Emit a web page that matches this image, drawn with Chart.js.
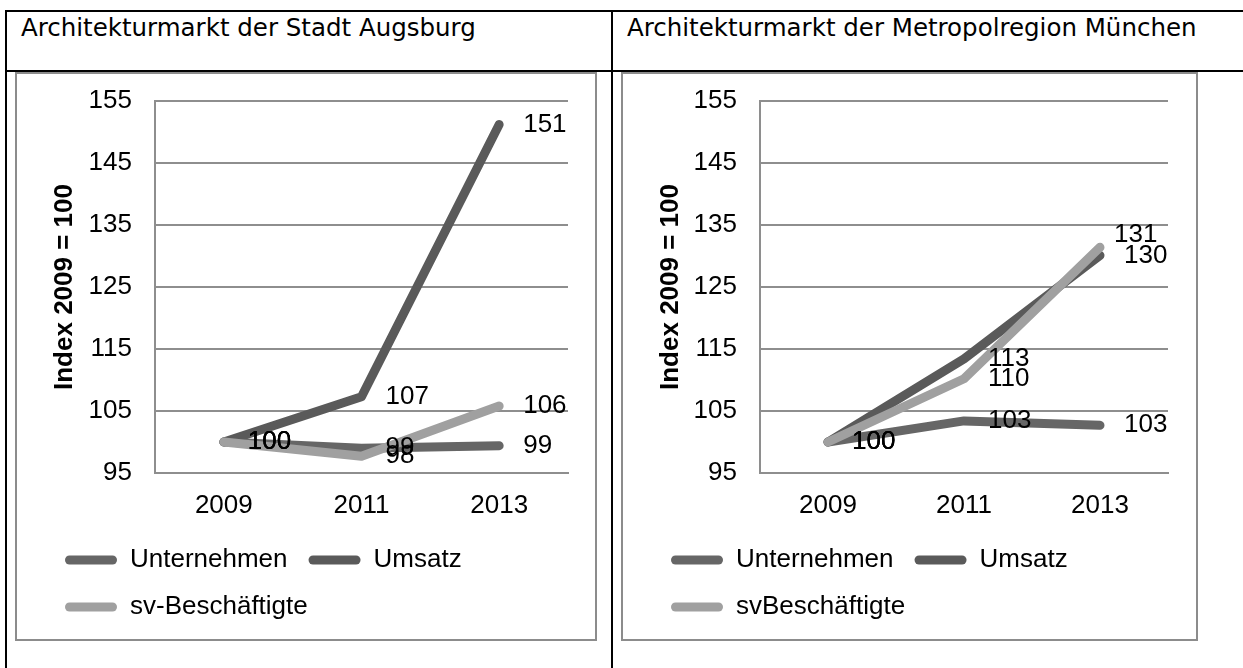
<!DOCTYPE html>
<html>
<head>
<meta charset="utf-8">
<script src="https://cdn.jsdelivr.net/npm/chart.js@4.4.0/dist/chart.umd.min.js"></script>
<style>
html, body { margin: 0; padding: 0; background: #fff; width: 1243px; height: 668px; overflow: hidden; font-family: "Liberation Sans", Arial, sans-serif; }
.hline { position: absolute; left: 5px; width: 1238px; height: 2px; background: #000; }
.vline { position: absolute; top: 10px; width: 2px; height: 660px; background: #000; }
.head { position: absolute; top: 13px; font-family: "DejaVu Sans", sans-serif; font-size: 24.5px; line-height: 30px; color: #000; white-space: nowrap; }
.box { position: absolute; top: 72px; height: 565px; border: 2px solid #8c8c8c; background: #fff; }
canvas { display: block; }
</style>
</head>
<body>
<div class="hline" style="top:10px"></div>
<div class="hline" style="top:70px"></div>
<div class="vline" style="left:5px"></div>
<div class="vline" style="left:611px"></div>
<div class="head" style="left:21px">Architekturmarkt der Stadt Augsburg</div>
<div class="head" style="left:627px">Architekturmarkt der Metropolregion München</div>
<div class="box" style="left:15px;width:578px"><canvas id="augsburg" width="578" height="565"></canvas></div>
<div class="box" style="left:621px;width:573px"><canvas id="muenchen" width="573" height="565"></canvas></div>

<script>
// data
const years = ['2009', '2011', '2013'];
const namesAugsburg = ['Unternehmen', 'Umsatz', 'sv-Beschäftigte'];
const namesMuenchen = ['Unternehmen', 'Umsatz', 'svBeschäftigte'];

const augsburgUnternehmen = [100, 99.0, 99.4];
const augsburgUmsatz = [100, 107.3, 151.2];
const augsburgBeschaeftigte = [100, 97.7, 105.8];

const muenchenUnternehmen = [100, 103.4, 102.7];
const muenchenUmsatz = [100, 113.4, 130.1];
const muenchenBeschaeftigte = [100, 110.2, 131.4];

const yMin = 95, yMax = 155, yStep = 10;
const yTitle = 'Index 2009 = 100';

const seriesColors = ['#666666', '#5a5a5a', '#a0a0a0'];
const gridColor = '#8e8e8e';

Chart.defaults.font.family = '"Liberation Sans", Arial, sans-serif';
Chart.defaults.font.size = 26;
Chart.defaults.color = '#000';

// value next to every point, like the Excel data labels
const valueLabels = {
    id: 'valueLabels',
    afterDatasetsDraw(chart, args, opts) {
        const ctx = chart.ctx;
        ctx.save();
        ctx.font = '26px "Liberation Sans", Arial, sans-serif';
        ctx.fillStyle = '#000';
        ctx.textAlign = 'left';
        ctx.textBaseline = 'middle';
        chart.data.datasets.forEach((ds, di) => {
            chart.getDatasetMeta(di).data.forEach((pt, i) => {
                const s = (opts.shifts || []).find(o => o.dataset === di && o.index === i) || {dx: 0, dy: 0};
                ctx.fillText(String(Math.round(ds.data[i])), pt.x + 24 + s.dx, pt.y + s.dy);
            });
        });
        ctx.restore();
    }
};

function drawIndexChart(canvasId, names, series, yAxisWidth, padRight, shifts) {
    new Chart(document.getElementById(canvasId), {
        type: 'line',
        data: {
            labels: years,
            datasets: series.map((values, i) => ({
                label: names[i],
                data: values,
                borderColor: seriesColors[i],
                backgroundColor: seriesColors[i],
                borderWidth: 9,
                borderCapStyle: 'round',
                borderJoinStyle: 'round',
                pointRadius: 0,
                pointHoverRadius: 0,
                tension: 0,
                fill: false,
                order: series.length - 1 - i
            }))
        },
        options: {
            responsive: false,
            animation: false,
            devicePixelRatio: 1,
            layout: {padding: {top: 27, left: 27, right: padRight, bottom: 9}},
            plugins: {
                tooltip: {enabled: false},
                legend: {
                    position: 'bottom',
                    align: 'start',
                    labels: {
                        boxWidth: 52,
                        boxHeight: 9,
                        padding: 21,
                        color: '#000',
                        font: {size: 26},
                        useBorderRadius: true,
                        borderRadius: 4.5,
                        sort: (a, b) => a.datasetIndex - b.datasetIndex,
                        generateLabels: chart => Chart.defaults.plugins.legend.labels.generateLabels(chart)
                            .map(item => Object.assign(item, {lineWidth: 0}))
                    }
                },
                valueLabels: {shifts: shifts}
            },
            scales: {
                x: {
                    offset: true,
                    grid: {display: false, drawTicks: false},
                    border: {display: true, color: gridColor, width: 2},
                    ticks: {padding: 17, color: '#000', font: {size: 26}},
                    afterFit: s => { s.height = 53; }
                },
                y: {
                    min: yMin,
                    max: yMax,
                    // invisible tick marks keep the labels away from the axis
                    // without the extra top padding that ticks.padding adds
                    ticks: {stepSize: yStep, padding: 0, color: '#000', font: {size: 26}},
                    grid: {color: gridColor, lineWidth: 2, drawTicks: true, tickLength: 23, tickColor: 'rgba(0,0,0,0)'},
                    border: {display: true, color: gridColor, width: 2},
                    title: {
                        display: true,
                        text: yTitle,
                        color: '#000',
                        font: {size: 26, weight: 'bold'},
                        padding: {top: 5, bottom: 0}
                    },
                    afterFit: s => { s.width = yAxisWidth; }
                }
            }
        },
        plugins: [valueLabels]
    });
}

drawIndexChart('augsburg', namesAugsburg,
    [augsburgUnternehmen, augsburgUmsatz, augsburgBeschaeftigte], 111, 27, []);
drawIndexChart('muenchen', namesMuenchen,
    [muenchenUnternehmen, muenchenUmsatz, muenchenBeschaeftigte], 110, 28,
    [{dataset: 2, index: 2, dx: -10, dy: -12}]);
</script>
</body>
</html>
